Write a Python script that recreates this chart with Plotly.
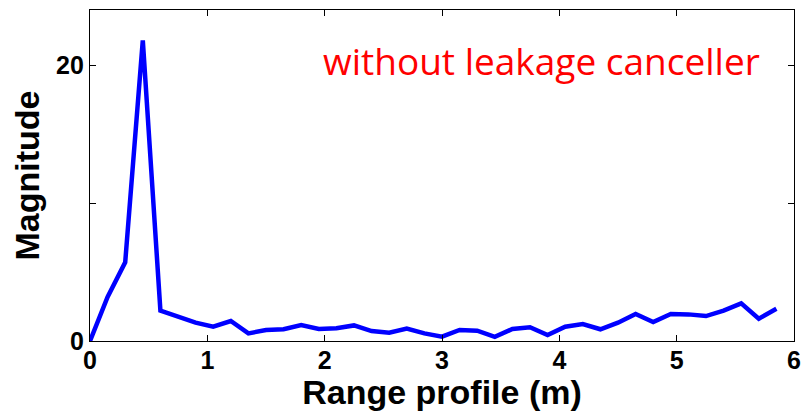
import plotly.graph_objects as go

# Data
range_m = [0.00, 0.15, 0.30, 0.45, 0.60, 0.75, 0.90, 1.05, 1.20, 1.35,
           1.50, 1.65, 1.80, 1.95, 2.10, 2.25, 2.40, 2.55, 2.70, 2.85,
           3.00, 3.15, 3.30, 3.45, 3.60, 3.75, 3.90, 4.05, 4.20, 4.35,
           4.50, 4.65, 4.80, 4.95, 5.10, 5.25, 5.40, 5.55, 5.70, 5.85]
magnitude = [0.0, 3.2, 5.7, 21.8, 2.2, 1.77, 1.33, 1.04, 1.45, 0.55,
             0.8, 0.85, 1.16, 0.87, 0.92, 1.13, 0.72, 0.6, 0.9, 0.55,
             0.32, 0.8, 0.75, 0.3, 0.87, 1.0, 0.43, 1.04, 1.23, 0.85,
             1.33, 1.96, 1.38, 1.96, 1.93, 1.81, 2.2, 2.73, 1.62, 2.34]

x_ticks = [0, 1, 2, 3, 4, 5, 6]
y_ticks = [0, 10, 20]
y_ticktext = ["0", "", "20"]

fig = go.Figure()
fig.add_trace(go.Scatter(
    x=range_m, y=magnitude, mode="lines",
    line=dict(color="#0000FF", width=4.5),
    showlegend=False,
))

axis_font = dict(family="Liberation Sans, Arial, sans-serif", size=25, color="black", weight="bold")
title_font = dict(family="Liberation Sans, Arial, sans-serif", size=34, color="black", weight="bold")

fig.update_xaxes(
    range=[0, 6], tickvals=x_ticks, ticktext=[str(v) for v in x_ticks],
    ticks="inside", ticklen=6, tickwidth=1, tickcolor="black",
    showline=True, linecolor="black", linewidth=1.2, mirror="ticks",
    showgrid=False, zeroline=False, tickfont=axis_font, ticklabelstandoff=-3,
    title=dict(text="Range profile (m)", font=title_font, standoff=8),
)
fig.update_yaxes(
    range=[0, 24], tickvals=y_ticks, ticktext=y_ticktext,
    ticks="inside", ticklen=6, tickwidth=1, tickcolor="black",
    showline=True, linecolor="black", linewidth=1.2, mirror="ticks",
    showgrid=False, zeroline=False, tickfont=axis_font,
    title=dict(text="Magnitude", font=title_font, standoff=6),
)

fig.add_annotation(
    text="without leakage canceller", xref="paper", yref="paper",
    x=0.641, y=0.846, xanchor="center", yanchor="middle", showarrow=False,
    font=dict(family="Open Sans, Noto Sans, sans-serif", size=37, color="#FF0000"),
)

fig.update_layout(
    width=803, height=411,
    margin=dict(l=90, r=9, t=10, b=70, autoexpand=False),
    paper_bgcolor="white", plot_bgcolor="white",
)

fig.write_html("out.html")
